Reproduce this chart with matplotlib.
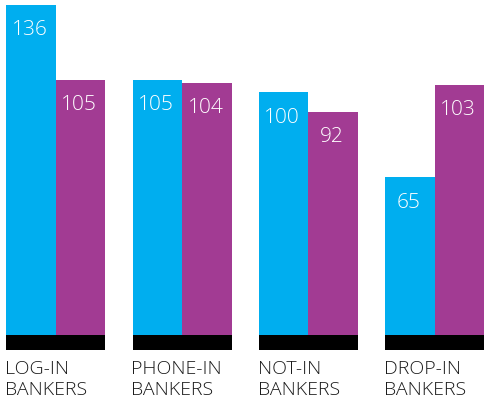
import matplotlib
matplotlib.use("Agg")
import matplotlib.pyplot as plt
import numpy as np

categories = ["LOG-IN\nBANKERS", "PHONE-IN\nBANKERS", "NOT-IN\nBANKERS", "DROP-IN\nBANKERS"]
series_a = [136, 105, 100, 65]
series_b = [105, 104, 92, 103]

cyan = "#00AEEF"
purple = "#A23B93"
font = "Open Sans"

fig = plt.figure(figsize=(4.87, 4.05), dpi=100)
ax = fig.add_axes([0, 55/405, 1, 350/405])
scale = 330/136.0
step = 126.3
c0 = 55.8
ax.set_ylim(-15/scale, 335/scale)
ax.set_xlim(-c0/step, (487-c0)/step)
ax.axis("off")

x = np.arange(len(categories))
w = 49.5/step
ba = ax.bar(x - w/2, series_a, width=w, color=cyan, linewidth=0)
bb = ax.bar(x + w/2, series_b, width=w, color=purple, linewidth=0)
ax.bar(x, [-15/scale]*len(x), width=2*w, color="black", linewidth=0)

for bars, vals in ((ba, series_a), (bb, series_b)):
    for r, v in zip(bars, vals):
        ax.annotate(str(v), (r.get_x() + r.get_width()/2, v), xytext=(-1, -11),
                    textcoords="offset points", ha="center", va="top",
                    color="white", fontsize=15, family=font, fontweight="light")

for xi, lab in zip(x, categories):
    ax.annotate(lab, (xi - w, -15/scale), xytext=(-1, -7.5), textcoords="offset points",
                ha="left", va="top", color="#1a1a1a", fontsize=14, family=font,
                fontweight="light", linespacing=1.22, annotation_clip=False)

fig.savefig("out.png", dpi=100)
